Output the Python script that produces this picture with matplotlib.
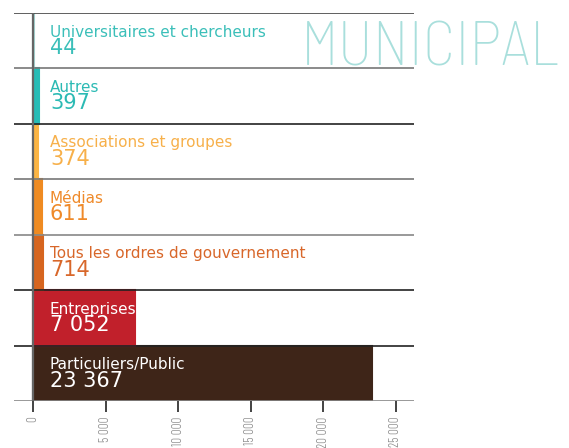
import matplotlib
matplotlib.use("Agg")
import matplotlib.pyplot as plt
from matplotlib.ticker import FuncFormatter

# données (du bas vers le haut)
categories = ["Particuliers/Public", "Entreprises", "Tous les ordres de gouvernement",
              "Médias", "Associations et groupes", "Autres", "Universitaires et chercheurs"]
values = [23367, 7052, 714, 611, 374, 397, 44]
value_labels = ["23 367", "7 052", "714", "611", "374", "397", "44"]
ticks = [0, 5000, 10000, 15000, 20000, 25000]
title = "MUNICIPAL"

bar_colors = ["#3e2518", "#c1202b", "#d6651f", "#ef8b22", "#fbb443", "#27bcb6", "#a5d7d3"]
text_colors = ["white", "white", "#d8672a", "#ef8a2a", "#f7b04a", "#2bbab4", "#3bbfb9"]
line_colors = ["#888888", "#222222", "#222222", "#888888", "#777777", "#222222", "#777777", "#444444"]

fig = plt.figure(figsize=(5.69, 4.48), dpi=100)
ax = fig.add_axes([14 / 569, 47 / 448, 400 / 569, 388 / 448])

y = range(len(values))
ax.barh(y, values, height=1.0, color=bar_colors, edgecolor=bar_colors, linewidth=1.5, zorder=2)

# lignes horizontales entre les rangées
for i, c in enumerate(line_colors):
    ax.axhline(i - 0.5, color=c, lw=1.2, zorder=3)
ax.axvline(0, color="#666666", lw=1.6, zorder=4)

for i in y:
    ax.text(1170, i + 0.075, categories[i], color=text_colors[i], fontsize=11,
            family="DejaVu Sans", va="baseline", ha="left", zorder=5)
    ax.text(1170, i - 0.24, value_labels[i], color=text_colors[i], fontsize=15,
            family="DejaVu Sans", va="baseline", ha="left", zorder=5)

ax.set_xlim(-1309, 26240)
ax.set_ylim(-0.5, len(values) - 0.5)
ax.set_yticks([])
ax.set_xticks(ticks)
ax.xaxis.set_major_formatter(FuncFormatter(lambda v, p: "{:,}".format(int(v)).replace(",", " ")))
ax.tick_params(axis="x", length=8, width=1.2, color="#222222", pad=3,
               labelrotation=90, labelsize=9.5, labelcolor="#8a8a8a")
for lab in ax.get_xticklabels():
    lab.set_family("Barlow Condensed")
    lab.set_fontweight(300)
ax.get_xticklines()[0].set_color("#777777")
for s in ax.spines.values():
    s.set_visible(False)

fig.text(301 / 569, 1 - 65 / 448, title, color="#a9dfdc", fontsize=44.5,
         family="Barlow Semi Condensed", fontweight=250, ha="left", va="baseline")

fig.savefig("out.png", dpi=100)
